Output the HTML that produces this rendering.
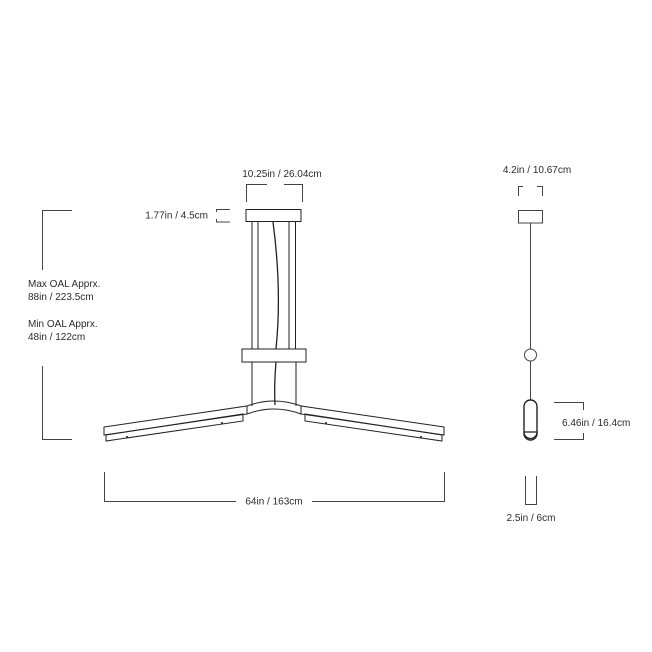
<!DOCTYPE html>
<html><head><style>
html,body{margin:0;padding:0;background:#fff;}
svg{display:block}
text{font-family:"Liberation Sans",sans-serif;font-size:10px;fill:#2a2a2a;}
</style></head><body>
<svg width="652" height="652" viewBox="0 0 652 652" xmlns="http://www.w3.org/2000/svg">
<g fill="none" stroke="#222" stroke-width="1">
<rect x="246" y="209.5" width="55" height="12"/>
<line x1="252" y1="221.5" x2="252" y2="349"/><line x1="258" y1="221.5" x2="258" y2="349"/>
<line x1="289" y1="221.5" x2="289" y2="349"/><line x1="295.5" y1="221.5" x2="295.5" y2="349"/>
<rect x="242" y="349" width="64" height="13"/>
<line x1="252" y1="362" x2="252" y2="406"/><line x1="296" y1="362" x2="296" y2="406"/>
<path d="M273 222 Q282 290 276 349 M276 362 Q274 385 275 405" stroke-width="1.3"/>
<path d="M247 406 Q274 396 301 406 L301 414 Q274 404 247 414 Z"/>
<polygon points="104,427 247,406 247,414 104,435"/>
<polygon points="106,435 243,414 243,421 106,441"/>
<polygon points="444,427 301,406 301,414 444,435"/>
<polygon points="442,435 305,414 305,421 442,441"/>
</g>
<g fill="#222"><circle cx="222" cy="423" r="1"/><circle cx="127" cy="437" r="1"/><circle cx="326" cy="423" r="1"/><circle cx="421" cy="437" r="1"/></g>
<g fill="none" stroke="#444" stroke-width="1">
<path d="M246.5 202 V184.5 H267 M284 184.5 H302.5 V202"/>
<path d="M230 209.5 H216.5 V212 M216.5 219 V222 H230"/>
<path d="M72 210.5 H42.5 V270 M42.5 366 V439.5 H72"/>
<path d="M104.5 472 V501.5 H236 M312 501.5 H444.5 V472"/>
<path d="M518.5 196 V186.5 H523 M537 186.5 H542.5 V196"/>
<rect x="518.5" y="210.5" width="24" height="12.5"/>
<line x1="530.5" y1="223" x2="530.5" y2="349"/>
<circle cx="530.5" cy="355" r="6"/>
<line x1="530.5" y1="361" x2="530.5" y2="400"/>
<rect x="524" y="400" width="13" height="40" rx="6.5" stroke="#222" stroke-width="1.4"/>
<path d="M524 432 H537 M524 432 A6.5 6.5 0 0 0 537 432" stroke="#222" stroke-width="1.2"/>
<path d="M554 402.5 H583.5 V410 M583.5 433 V439.5 H554"/>
<path d="M525.5 476 V504.5 H536.5 V476"/>
</g>
<text x="282" y="177" text-anchor="middle">10.25in / 26.04cm</text>
<text x="208" y="218.5" text-anchor="end">1.77in / 4.5cm</text>
<text x="28" y="287">Max OAL Apprx.</text>
<text x="28" y="300">88in / 223.5cm</text>
<text x="28" y="327">Min OAL Apprx.</text>
<text x="28" y="340">48in / 122cm</text>
<text x="274" y="504.5" text-anchor="middle">64in / 163cm</text>
<text x="537" y="173" text-anchor="middle">4.2in / 10.67cm</text>
<text x="562" y="426">6.46in / 16.4cm</text>
<text x="531" y="521" text-anchor="middle">2.5in / 6cm</text>
</svg>
</body></html>
